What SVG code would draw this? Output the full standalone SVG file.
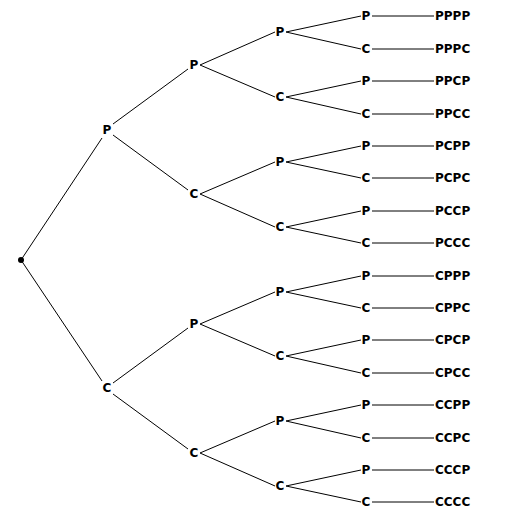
<svg xmlns="http://www.w3.org/2000/svg" width="511" height="514" viewBox="0 0 511 514">
<style>
text{font-family:"DejaVu Sans",Verdana,sans-serif;font-weight:bold;font-size:12px;fill:#000}
.n{text-anchor:middle}
line{stroke:#000;stroke-width:1}
</style>
<rect width="511" height="514" fill="#fff"/>
<g id="connectors">
<line x1="21" y1="260" x2="102" y2="138"/>
<line x1="21" y1="260" x2="102" y2="381"/>
<line x1="113" y1="124" x2="188" y2="69"/>
<line x1="113" y1="135" x2="188" y2="190"/>
<line x1="113" y1="383" x2="188" y2="328"/>
<line x1="113" y1="394" x2="188" y2="449"/>
<line x1="200" y1="65" x2="275" y2="32"/>
<line x1="200" y1="65" x2="275" y2="97"/>
<line x1="200" y1="194" x2="275" y2="162"/>
<line x1="200" y1="194" x2="275" y2="227"/>
<line x1="200" y1="324" x2="275" y2="292"/>
<line x1="200" y1="324" x2="275" y2="356"/>
<line x1="200" y1="453" x2="275" y2="421"/>
<line x1="200" y1="453" x2="275" y2="486"/>
<line x1="286" y1="32" x2="361" y2="16"/>
<line x1="286" y1="32" x2="361" y2="49"/>
<line x1="286" y1="97" x2="361" y2="81"/>
<line x1="286" y1="97" x2="361" y2="114"/>
<line x1="286" y1="162" x2="361" y2="146"/>
<line x1="286" y1="162" x2="361" y2="178"/>
<line x1="286" y1="227" x2="361" y2="211"/>
<line x1="286" y1="227" x2="361" y2="243"/>
<line x1="286" y1="292" x2="361" y2="276"/>
<line x1="286" y1="292" x2="361" y2="308"/>
<line x1="286" y1="356" x2="361" y2="340"/>
<line x1="286" y1="356" x2="361" y2="373"/>
<line x1="286" y1="421" x2="361" y2="405"/>
<line x1="286" y1="421" x2="361" y2="438"/>
<line x1="286" y1="486" x2="361" y2="470"/>
<line x1="286" y1="486" x2="361" y2="502"/>
<line x1="372" y1="16" x2="434" y2="16"/>
<line x1="372" y1="49" x2="434" y2="49"/>
<line x1="372" y1="81" x2="434" y2="81"/>
<line x1="372" y1="114" x2="434" y2="114"/>
<line x1="372" y1="146" x2="434" y2="146"/>
<line x1="372" y1="178" x2="434" y2="178"/>
<line x1="372" y1="211" x2="434" y2="211"/>
<line x1="372" y1="243" x2="434" y2="243"/>
<line x1="372" y1="276" x2="434" y2="276"/>
<line x1="372" y1="308" x2="434" y2="308"/>
<line x1="372" y1="340" x2="434" y2="340"/>
<line x1="372" y1="373" x2="434" y2="373"/>
<line x1="372" y1="405" x2="434" y2="405"/>
<line x1="372" y1="438" x2="434" y2="438"/>
<line x1="372" y1="470" x2="434" y2="470"/>
<line x1="372" y1="502" x2="434" y2="502"/>
</g>
<g id="root"><circle cx="21" cy="260" r="3" fill="#000"/></g>
<g id="n1"><text class="n" x="107" y="134">P</text></g>
<g id="n2"><text class="n" x="107" y="392">C</text></g>
<g id="n11"><text class="n" x="194" y="69">P</text></g>
<g id="n12"><text class="n" x="194" y="198">C</text></g>
<g id="n21"><text class="n" x="194" y="328">P</text></g>
<g id="n22"><text class="n" x="194" y="457">C</text></g>
<g id="n111"><text class="n" x="280" y="36">P</text></g>
<g id="n112"><text class="n" x="280" y="101">C</text></g>
<g id="n121"><text class="n" x="280" y="166">P</text></g>
<g id="n122"><text class="n" x="280" y="231">C</text></g>
<g id="n211"><text class="n" x="280" y="296">P</text></g>
<g id="n212"><text class="n" x="280" y="360">C</text></g>
<g id="n221"><text class="n" x="280" y="425">P</text></g>
<g id="n222"><text class="n" x="280" y="490">C</text></g>
<g id="l1"><text class="n" x="366" y="20">P</text><text x="435" y="20">PPPP</text></g>
<g id="l2"><text class="n" x="366" y="53">C</text><text x="435" y="53">PPPC</text></g>
<g id="l3"><text class="n" x="366" y="85">P</text><text x="435" y="85">PPCP</text></g>
<g id="l4"><text class="n" x="366" y="118">C</text><text x="435" y="118">PPCC</text></g>
<g id="l5"><text class="n" x="366" y="150">P</text><text x="435" y="150">PCPP</text></g>
<g id="l6"><text class="n" x="366" y="182">C</text><text x="435" y="182">PCPC</text></g>
<g id="l7"><text class="n" x="366" y="215">P</text><text x="435" y="215">PCCP</text></g>
<g id="l8"><text class="n" x="366" y="247">C</text><text x="435" y="247">PCCC</text></g>
<g id="l9"><text class="n" x="366" y="280">P</text><text x="435" y="280">CPPP</text></g>
<g id="l10"><text class="n" x="366" y="312">C</text><text x="435" y="312">CPPC</text></g>
<g id="l11"><text class="n" x="366" y="344">P</text><text x="435" y="344">CPCP</text></g>
<g id="l12"><text class="n" x="366" y="377">C</text><text x="435" y="377">CPCC</text></g>
<g id="l13"><text class="n" x="366" y="409">P</text><text x="435" y="409">CCPP</text></g>
<g id="l14"><text class="n" x="366" y="442">C</text><text x="435" y="442">CCPC</text></g>
<g id="l15"><text class="n" x="366" y="474">P</text><text x="435" y="474">CCCP</text></g>
<g id="l16"><text class="n" x="366" y="506">C</text><text x="435" y="506">CCCC</text></g>
</svg>
